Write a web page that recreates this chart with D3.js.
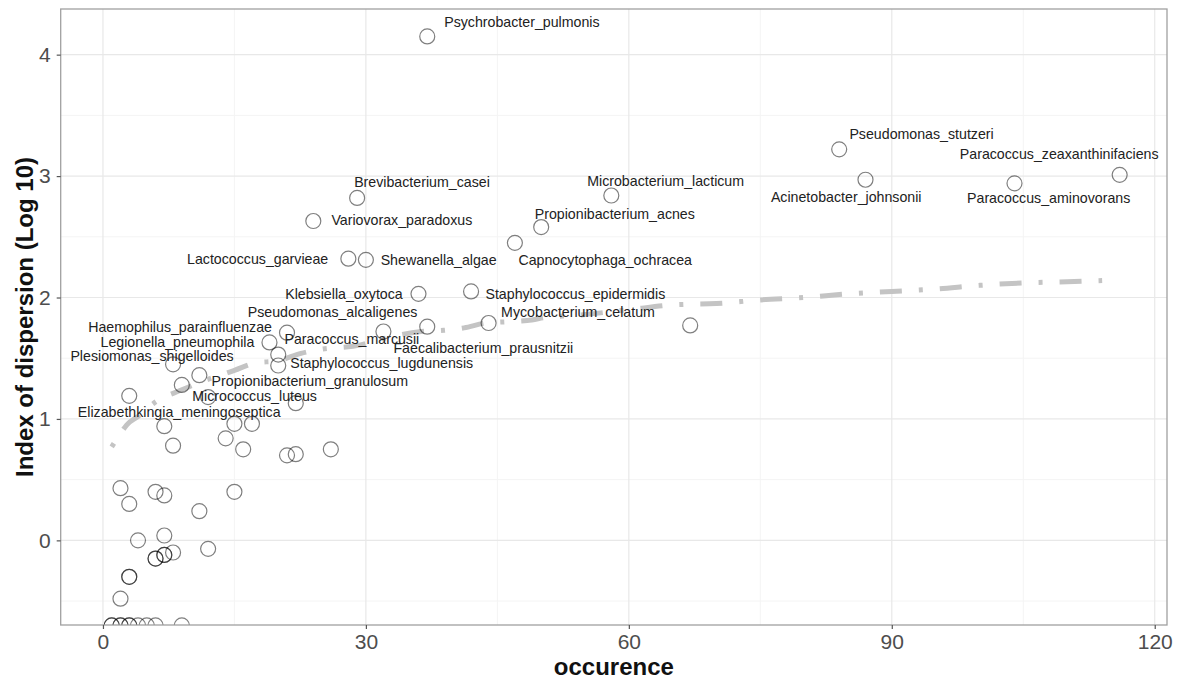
<!DOCTYPE html>
<html>
<head>
<meta charset="utf-8">
<script src="https://cdn.jsdelivr.net/npm/d3@7"></script>
<style>
  body { margin: 0; background: #fff; }
  svg { font-family: "Liberation Sans", Arial, Helvetica, sans-serif; }
</style>
</head>
<body>
<svg id="chart" width="1181" height="680"></svg>
<script>
// occurence / log10 index of dispersion, one entry per species
var occurence = [37, 84, 87, 116, 104, 29, 58, 24, 50, 47, 28, 30, 36, 42,
    44, 67, 37, 32, 21, 19, 20, 20, 8, 11, 9, 3, 12, 22, 7, 15, 17, 8, 14, 16, 21, 22, 26,
    2, 3, 6, 7, 11, 15, 4, 7, 6, 6, 7, 7, 8, 12, 3, 3, 2,
    1, 1, 2, 2, 3, 3, 4, 5, 6, 9];
var dispersion = [4.15, 3.22, 2.97, 3.01, 2.94, 2.82, 2.84, 2.63, 2.58, 2.45, 2.32, 2.31, 2.03, 2.05,
    1.79, 1.77, 1.76, 1.72, 1.71, 1.63, 1.53, 1.44, 1.45, 1.36, 1.28, 1.19, 1.18, 1.13, 0.94, 0.96, 0.96, 0.78, 0.84, 0.75, 0.70, 0.71, 0.75,
    0.43, 0.30, 0.40, 0.37, 0.24, 0.40, 0.00, 0.04, -0.15, -0.15, -0.12, -0.12, -0.10, -0.07, -0.30, -0.30, -0.48,
    -0.70, -0.70, -0.70, -0.70, -0.70, -0.70, -0.70, -0.70, -0.70, -0.70];

// species labels (placed like ggrepel did, label centre in data units)
var labelText = ["Psychrobacter_pulmonis", "Pseudomonas_stutzeri", "Paracoccus_zeaxanthinifaciens",
    "Acinetobacter_johnsonii", "Paracoccus_aminovorans", "Brevibacterium_casei", "Microbacterium_lacticum",
    "Variovorax_paradoxus", "Propionibacterium_acnes", "Capnocytophaga_ochracea", "Lactococcus_garvieae",
    "Shewanella_algae", "Klebsiella_oxytoca", "Staphylococcus_epidermidis", "Pseudomonas_alcaligenes",
    "Mycobacterium_celatum", "Haemophilus_parainfluenzae", "Legionella_pneumophila", "Paracoccus_marcusii",
    "Faecalibacterium_prausnitzii", "Plesiomonas_shigelloides", "Staphylococcus_lugdunensis",
    "Propionibacterium_granulosum", "Micrococcus_luteus", "Elizabethkingia_meningoseptica"];
var labelOcc = [47.8, 93.4, 109.1, 84.8, 107.9, 36.4, 64.2, 34.1, 58.4, 57.3, 17.65, 38.3, 27.5, 53.9,
    26.2, 54.2, 8.8, 8.5, 28.4, 43.4, 5.6, 31.8, 23.6, 17.3, 8.7];
var labelDisp = [4.27, 3.35, 3.18, 2.83, 2.82, 2.95, 2.96, 2.64, 2.69, 2.31, 2.32, 2.31, 2.03, 2.03,
    1.88, 1.88, 1.755, 1.635, 1.66, 1.585, 1.52, 1.46, 1.31, 1.185, 1.06];

// fitted trend
var trendOcc = [1, 2, 2.7, 4, 6, 9, 11, 15, 17.3, 20, 22.6, 24.5, 29.4, 30.4, 36.3, 38.9, 41.2, 43.7, 46,
    48.4, 50.9, 53.4, 60, 65.3, 70, 75, 80, 85, 90, 95, 100, 105, 110, 114];
var trendDisp = [0.77, 0.88, 0.95, 1.02, 1.14, 1.24, 1.30, 1.40, 1.46, 1.48, 1.54, 1.57, 1.61, 1.63, 1.72, 1.73, 1.75, 1.79, 1.80,
    1.81, 1.84, 1.85, 1.90, 1.94, 1.95, 1.98, 2.00, 2.03, 2.05, 2.07, 2.10, 2.12, 2.13, 2.14];

var xTicks = [0, 30, 60, 90, 120];
var xMinor = [15, 45, 75, 105];
var yTicks = [0, 1, 2, 3, 4];
var yMinor = [-0.5, 0.5, 1.5, 2.5, 3.5];

var pLeft = 60.7, pRight = 1167, pTop = 9, pBottom = 625;

var svg = d3.select("#chart");

var x = d3.scaleLinear().domain([-4.82, 121.4]).range([pLeft, pRight]);
var y = d3.scaleLinear().domain([-0.697, 4.376]).range([pBottom, pTop]);

// clip for the panel
svg.append("clipPath").attr("id", "panel")
    .append("rect")
    .attr("x", pLeft).attr("y", pTop)
    .attr("width", pRight - pLeft).attr("height", pBottom - pTop);

//grid
var grid = svg.append("g");
grid.selectAll(".xmin").data(xMinor).join("line")
    .attr("class", "xmin")
    .attr("x1", d => x(d)).attr("x2", d => x(d))
    .attr("y1", pTop).attr("y2", pBottom)
    .attr("stroke", "#f4f4f4").attr("stroke-width", 1);
grid.selectAll(".ymin").data(yMinor).join("line")
    .attr("class", "ymin")
    .attr("x1", pLeft).attr("x2", pRight)
    .attr("y1", d => y(d)).attr("y2", d => y(d))
    .attr("stroke", "#f4f4f4").attr("stroke-width", 1);
grid.selectAll(".xmaj").data(xTicks).join("line")
    .attr("class", "xmaj")
    .attr("x1", d => x(d)).attr("x2", d => x(d))
    .attr("y1", pTop).attr("y2", pBottom)
    .attr("stroke", "#e8e8e8").attr("stroke-width", 1.2);
grid.selectAll(".ymaj").data(yTicks).join("line")
    .attr("class", "ymaj")
    .attr("x1", pLeft).attr("x2", pRight)
    .attr("y1", d => y(d)).attr("y2", d => y(d))
    .attr("stroke", "#e8e8e8").attr("stroke-width", 1.2);

var plot = svg.append("g").attr("clip-path", "url(#panel)");

// trend line (dot-dash)
var line = d3.line()
    .x((d, i) => x(trendOcc[i]))
    .y((d, i) => y(trendDisp[i]))
    .curve(d3.curveMonotoneX);

plot.append("path")
    .datum(trendOcc)
    .attr("d", line)
    .attr("fill", "none")
    .attr("stroke", "#c4c4c4")
    .attr("stroke-width", 5)
    .attr("stroke-dasharray", "4,17,22,17");

// points
plot.selectAll("circle")
    .data(occurence)
    .join("circle")
    .attr("cx", d => x(d))
    .attr("cy", (d, i) => y(dispersion[i]))
    .attr("r", 7.5)
    .attr("fill", "none")
    .attr("stroke", "#000")
    .attr("stroke-opacity", 0.5)
    .attr("stroke-width", 1.2);

// labels
svg.append("g").selectAll("text")
    .data(labelText)
    .join("text")
    .attr("x", (d, i) => x(labelOcc[i]))
    .attr("y", (d, i) => y(labelDisp[i]))
    .attr("dy", "0.35em")
    .attr("text-anchor", "middle")
    .attr("font-size", "14.2px")
    .attr("fill", "#222")
    .text(d => d);

// panel border
svg.append("rect")
    .attr("x", pLeft).attr("y", pTop)
    .attr("width", pRight - pLeft).attr("height", pBottom - pTop)
    .attr("fill", "none").attr("stroke", "#a0a0a0").attr("stroke-width", 1.3);

//Create X axis
var xAxis = svg.append("g")
    .attr("transform", "translate(0," + pBottom + ")")
    .call(d3.axisBottom(x).tickValues(xTicks).tickSize(4).tickPadding(5));
//Create Y axis
var yAxis = svg.append("g")
    .attr("transform", "translate(" + pLeft + ",0)")
    .call(d3.axisLeft(y).tickValues(yTicks).tickFormat(d3.format("d")).tickSize(4).tickPadding(6));

[xAxis, yAxis].forEach(function(a) {
    a.select(".domain").remove();
    a.selectAll(".tick line").attr("stroke", "#555").attr("stroke-width", 1.2);
    a.selectAll(".tick text")
        .attr("fill", "#4d4d4d")
        .style("font-size", "21px")
        .style("font-family", "'Liberation Sans', Arial, sans-serif");
});

// axis titles
svg.append("text")
    .attr("x", (pLeft + pRight) / 2)
    .attr("y", 675)
    .attr("text-anchor", "middle")
    .attr("font-size", "24px")
    .attr("font-weight", "bold")
    .attr("fill", "#111")
    .text("occurence");

svg.append("text")
    .attr("transform", "translate(33," + (pTop + pBottom) / 2 + ") rotate(-90)")
    .attr("text-anchor", "middle")
    .attr("font-size", "24px")
    .attr("font-weight", "bold")
    .attr("fill", "#111")
    .text("Index of dispersion (Log 10)");
</script>
</body>
</html>
